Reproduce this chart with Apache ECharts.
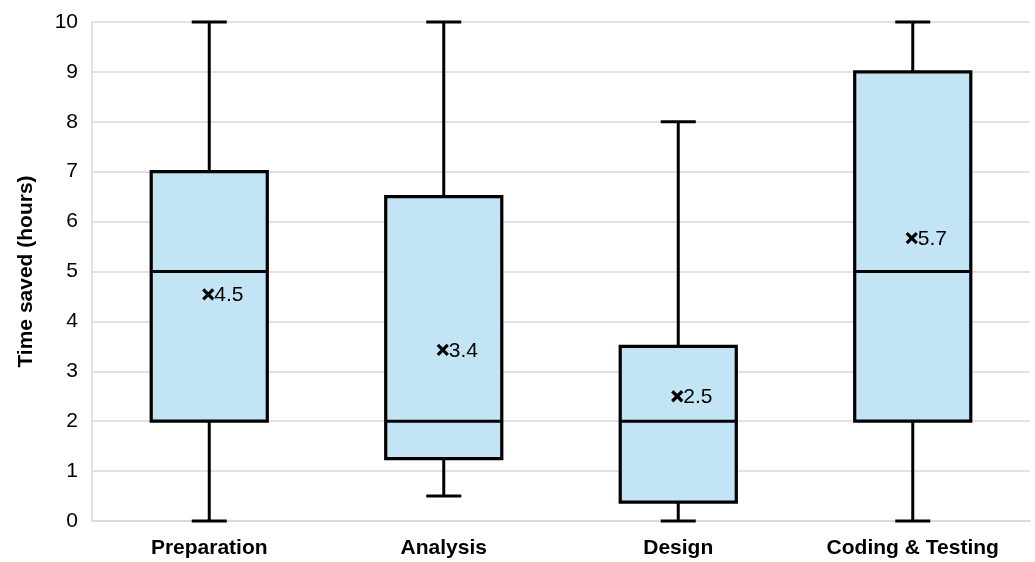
<!DOCTYPE html>
<html><head><meta charset="utf-8">
<script src="https://cdn.jsdelivr.net/npm/echarts@6/dist/echarts.min.js"></script>
<style>html,body{margin:0;padding:0;background:#fff}#c{width:1035px;height:562px}</style>
</head><body><div id="c"></div>
<script>
const categories = ["Preparation", "Analysis", "Design", "Coding & Testing"];
const minVals = [0, 0.5, 0, 0];
const q1Vals = [2, 1.25, 0.38, 2];
const medianVals = [5, 2, 2, 5];
const q3Vals = [7, 6.5, 3.5, 9];
const maxVals = [10, 10, 8, 10];
const meanVals = [4.54, 3.43, 2.5, 5.67];
const yTicks = [0, 1, 2, 3, 4, 5, 6, 7, 8, 9, 10];

const FONT = "Liberation Sans";
const chart = echarts.init(document.getElementById('c'));
const boxData = categories.map((c, i) => [i, minVals[i], q1Vals[i], medianVals[i], q3Vals[i], maxVals[i], meanVals[i]]);

function renderBox(params, api) {
  const i = api.value(0);
  const band = api.size([1, 0])[0];
  const bw = band * 0.495;
  const cw = 35;
  const pMin = api.coord([i, api.value(1)]);
  const pQ1 = api.coord([i, api.value(2)]);
  const pMed = api.coord([i, api.value(3)]);
  const pQ3 = api.coord([i, api.value(4)]);
  const pMax = api.coord([i, api.value(5)]);
  const pMean = api.coord([i, api.value(6)]);
  const x = pMed[0];
  const ls = { stroke: '#000', lineWidth: 3 };
  const m = 5;
  const mx = pMean[0] - 1;
  return {
    type: 'group',
    children: [
      { type: 'line', shape: { x1: x, y1: pMax[1], x2: x, y2: pQ3[1] }, style: ls },
      { type: 'line', shape: { x1: x, y1: pQ1[1], x2: x, y2: pMin[1] }, style: ls },
      { type: 'line', shape: { x1: x - cw / 2, y1: pMax[1], x2: x + cw / 2, y2: pMax[1] }, style: ls },
      { type: 'line', shape: { x1: x - cw / 2, y1: pMin[1], x2: x + cw / 2, y2: pMin[1] }, style: ls },
      { type: 'rect', shape: { x: x - bw / 2, y: pQ3[1], width: bw, height: pQ1[1] - pQ3[1] },
        style: { fill: '#c2e4f5', stroke: '#000', lineWidth: 3.2 } },
      { type: 'line', shape: { x1: x - bw / 2, y1: pMed[1], x2: x + bw / 2, y2: pMed[1] }, style: ls },
      { type: 'line', shape: { x1: mx - m, y1: pMean[1] - m, x2: mx + m, y2: pMean[1] + m }, style: { stroke: '#000', lineWidth: 3.2 } },
      { type: 'line', shape: { x1: mx + m, y1: pMean[1] - m, x2: mx - m, y2: pMean[1] + m }, style: { stroke: '#000', lineWidth: 3.2 } },
      { type: 'text', style: { x: mx + m + 1, y: pMean[1] + 1, text: api.value(6).toFixed(1), fill: '#000',
        font: '21px "' + FONT + '"', textAlign: 'left', textVerticalAlign: 'middle' } }
    ]
  };
}

chart.setOption({
  animation: false,
  grid: { left: 92, right: 5, top: 22, bottom: 41, containLabel: false },
  xAxis: {
    type: 'category', data: categories,
    axisLine: { lineStyle: { color: '#d9d9d9', width: 1.5 } },
    axisTick: { show: false },
    axisLabel: { color: '#000', fontSize: 21, fontWeight: 'bold', fontFamily: FONT, margin: 17 },
    splitLine: { show: false }
  },
  yAxis: {
    type: 'value', min: yTicks[0], max: yTicks[yTicks.length - 1], interval: 1,
    name: 'Time saved (hours)', nameLocation: 'middle', nameGap: 55, nameRotate: 90,
    nameTextStyle: { color: '#000', fontSize: 21, fontWeight: 'bold', fontFamily: FONT },
    axisLine: { show: true, lineStyle: { color: '#d9d9d9', width: 1.5 } },
    axisTick: { show: false },
    axisLabel: { color: '#000', fontSize: 21, fontFamily: FONT, margin: 14 },
    splitLine: { lineStyle: { color: '#d9d9d9', width: 1.5 } }
  },
  series: [{
    type: 'custom', renderItem: renderBox, data: boxData,
    encode: { x: 0, y: [1, 2, 3, 4, 5] }, clip: false
  }]
});
</script></body></html>
